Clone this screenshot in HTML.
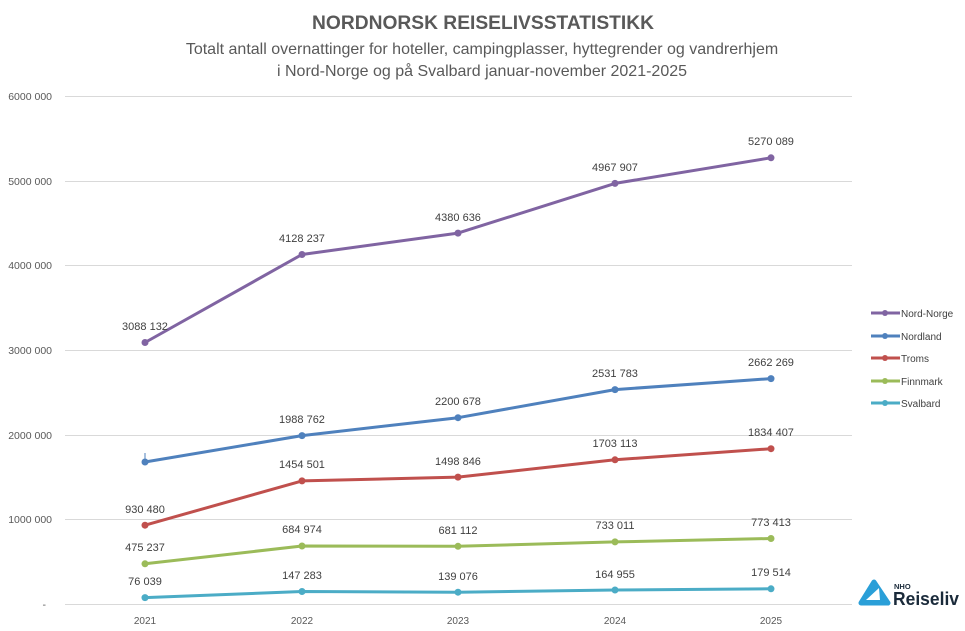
<!DOCTYPE html>
<html><head><meta charset="utf-8"><style>
body{margin:0;background:#fff;}
svg{display:block;font-family:"Liberation Sans",sans-serif;}
</style></head><body>
<svg width="965" height="631" viewBox="0 0 965 631">
<rect width="965" height="631" fill="#fff"/>
<text x="483" y="29" text-anchor="middle" font-size="19" font-weight="bold" fill="#595959" textLength="342" lengthAdjust="spacingAndGlyphs">NORDNORSK REISELIVSSTATISTIKK</text>
<text x="482" y="54" text-anchor="middle" font-size="16" fill="#595959">Totalt antall overnattinger for hoteller, campingplasser, hyttegrender og vandrerhjem</text>
<text x="482" y="76" text-anchor="middle" font-size="16" fill="#595959">i Nord-Norge og på Svalbard januar-november 2021-2025</text>
<g stroke="#d9d9d9" stroke-width="1">
<line x1="65" x2="852" y1="96.5" y2="96.5"/><line x1="65" x2="852" y1="181.5" y2="181.5"/>
<line x1="65" x2="852" y1="265.5" y2="265.5"/><line x1="65" x2="852" y1="350.5" y2="350.5"/>
<line x1="65" x2="852" y1="435.5" y2="435.5"/><line x1="65" x2="852" y1="519.5" y2="519.5"/>
<line x1="65" x2="852" y1="604.5" y2="604.5"/>
</g>
<g font-size="10.5" fill="#595959" text-anchor="end">
<text x="52" y="100">6000 000</text><text x="52" y="185">5000 000</text>
<text x="52" y="269">4000 000</text><text x="52" y="354">3000 000</text>
<text x="52" y="439">2000 000</text><text x="52" y="523">1000 000</text>
<text x="46" y="608">-</text>
</g>
<g font-size="10" fill="#595959" text-anchor="middle">
<text x="145" y="624">2021</text><text x="302" y="624">2022</text><text x="458" y="624">2023</text><text x="615" y="624">2024</text><text x="771" y="624">2025</text>
</g>
<g stroke-width="3" fill="none" stroke-linejoin="round">
<polyline stroke="#8064a2" points="145,342.5 302,254.5 458,233.1 615,183.4 771,157.8"/>
<polyline stroke="#4f81bd" points="145,462 302,435.6 458,417.7 615,389.6 771,378.6"/>
<polyline stroke="#c0504d" points="145,525.2 302,480.9 458,477.1 615,459.8 771,448.7"/>
<polyline stroke="#9bbb59" points="145,563.8 302,546 458,546.3 615,541.9 771,538.5"/>
<polyline stroke="#4bacc6" points="145,597.6 302,591.5 458,592.2 615,590 771,588.8"/>
</g>
<line x1="145" x2="145" y1="453" y2="462" stroke="#4f81bd" stroke-width="1"/>
<g>
<g fill="#8064a2"><circle cx="145" cy="342.5" r="3.5"/><circle cx="302" cy="254.5" r="3.5"/><circle cx="458" cy="233.1" r="3.5"/><circle cx="615" cy="183.4" r="3.5"/><circle cx="771" cy="157.8" r="3.5"/></g>
<g fill="#4f81bd"><circle cx="145" cy="462" r="3.5"/><circle cx="302" cy="435.6" r="3.5"/><circle cx="458" cy="417.7" r="3.5"/><circle cx="615" cy="389.6" r="3.5"/><circle cx="771" cy="378.6" r="3.5"/></g>
<g fill="#c0504d"><circle cx="145" cy="525.2" r="3.5"/><circle cx="302" cy="480.9" r="3.5"/><circle cx="458" cy="477.1" r="3.5"/><circle cx="615" cy="459.8" r="3.5"/><circle cx="771" cy="448.7" r="3.5"/></g>
<g fill="#9bbb59"><circle cx="145" cy="563.8" r="3.5"/><circle cx="302" cy="546" r="3.5"/><circle cx="458" cy="546.3" r="3.5"/><circle cx="615" cy="541.9" r="3.5"/><circle cx="771" cy="538.5" r="3.5"/></g>
<g fill="#4bacc6"><circle cx="145" cy="597.6" r="3.5"/><circle cx="302" cy="591.5" r="3.5"/><circle cx="458" cy="592.2" r="3.5"/><circle cx="615" cy="590" r="3.5"/><circle cx="771" cy="588.8" r="3.5"/></g>
</g>
<g font-size="11" fill="#404040" text-anchor="middle">
<text x="145" y="330">3088 132</text><text x="302" y="242">4128 237</text><text x="458" y="221">4380 636</text><text x="615" y="171">4967 907</text><text x="771" y="145">5270 089</text>
<text x="302" y="423">1988 762</text><text x="458" y="405">2200 678</text><text x="615" y="377">2531 783</text><text x="771" y="366">2662 269</text>
<text x="145" y="513">930 480</text><text x="302" y="468">1454 501</text><text x="458" y="465">1498 846</text><text x="615" y="447">1703 113</text><text x="771" y="436">1834 407</text>
<text x="145" y="551">475 237</text><text x="302" y="533">684 974</text><text x="458" y="534">681 112</text><text x="615" y="529">733 011</text><text x="771" y="526">773 413</text>
<text x="145" y="585">76 039</text><text x="302" y="579">147 283</text><text x="458" y="580">139 076</text><text x="615" y="578">164 955</text><text x="771" y="576">179 514</text>
</g>
<g font-size="10" fill="#404040" stroke-width="3">
<line x1="871" x2="900" y1="313" y2="313" stroke="#8064a2"/><circle cx="885" cy="313" r="3" fill="#8064a2"/><text x="901" y="317">Nord-Norge</text>
<line x1="871" x2="900" y1="336" y2="336" stroke="#4f81bd"/><circle cx="885" cy="336" r="3" fill="#4f81bd"/><text x="901" y="340">Nordland</text>
<line x1="871" x2="900" y1="358" y2="358" stroke="#c0504d"/><circle cx="885" cy="358" r="3" fill="#c0504d"/><text x="901" y="362">Troms</text>
<line x1="871" x2="900" y1="381" y2="381" stroke="#9bbb59"/><circle cx="885" cy="381" r="3" fill="#9bbb59"/><text x="901" y="385">Finnmark</text>
<line x1="871" x2="900" y1="403" y2="403" stroke="#4bacc6"/><circle cx="885" cy="403" r="3" fill="#4bacc6"/><text x="901" y="407">Svalbard</text>
</g>
<g>
<path d="M874,582 L888,603 L861,603 Z" fill="#2a9fd8" stroke="#2a9fd8" stroke-width="5" stroke-linejoin="round"/>
<path d="M866,600 L879,588 L880,600 Z" fill="#fff"/>
<text x="894" y="589" font-size="7.5" font-weight="bold" fill="#1a2a3a">NHO</text>
<text x="893" y="605" font-size="18" font-weight="bold" fill="#1a2a3a" textLength="66" lengthAdjust="spacingAndGlyphs">Reiseliv</text>
</g>
</svg>
</body></html>
